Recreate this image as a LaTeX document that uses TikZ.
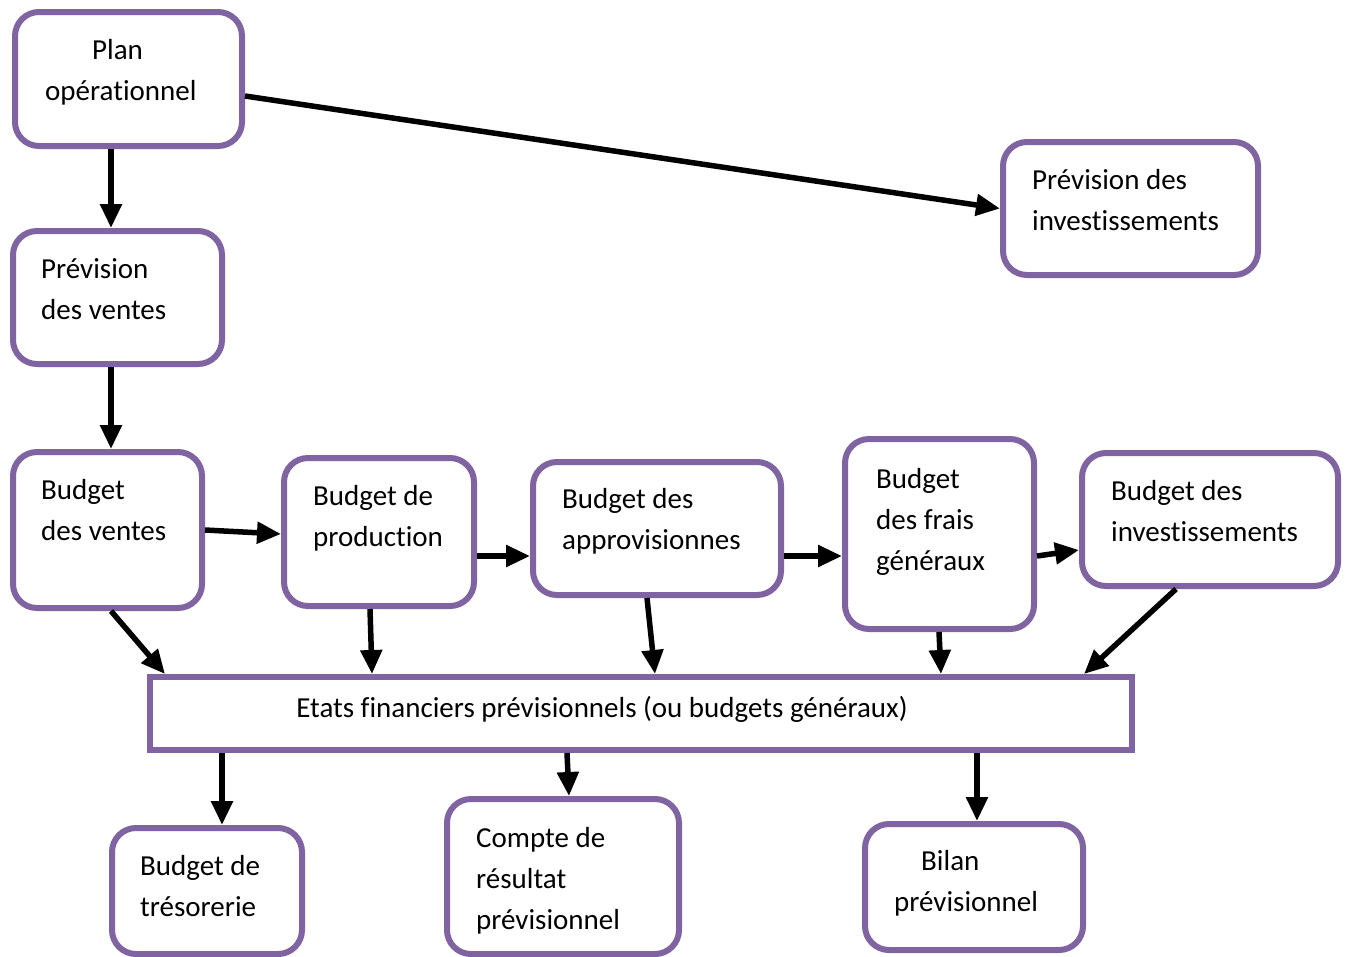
\documentclass[tikz,border=0pt]{standalone}
\usepackage{fontspec}
\setmainfont{Carlito}[Ligatures=NoCommon]
\usetikzlibrary{arrows.meta}
\definecolor{boxpurple}{HTML}{8064A2}
\begin{document}
\begin{tikzpicture}[x=1pt,y=-1pt,
  box/.style={draw=boxpurple,line width=6pt,rounded corners=24pt,inner sep=0pt,fill=white},
  sqbox/.style={draw=boxpurple,line width=6pt,inner sep=0pt,fill=white},
  txt/.style={inner sep=0pt,anchor=base west,align=left,font=\fontsize{29}{41}\selectfont},
  arr/.style={line width=5.5pt,-{Triangle[length=24pt,width=21pt]}}]
\useasboundingbox (0,0) rectangle (1346,956);
\clip (0,0) rectangle (1346,956);
\fill[white] (0,0) rectangle (1346,956);
% boxes
\node[box,minimum width=227pt,minimum height=134pt] (plan) at (128.5,79) {};
\node[box,minimum width=255pt,minimum height=133pt] (previnv) at (1130.5,208.5) {};
\node[box,minimum width=209pt,minimum height=133pt] (prevv) at (117.5,297.5) {};
\node[box,minimum width=189pt,minimum height=156pt] (bv) at (107.5,530) {};
\node[box,minimum width=190pt,minimum height=148pt] (bp) at (379,532) {};
\node[box,minimum width=248pt,minimum height=133pt] (ba) at (657,528.5) {};
\node[box,minimum width=189pt,minimum height=190pt] (bf) at (939.5,534) {};
\node[box,minimum width=256pt,minimum height=133pt] (bi) at (1210,519.5) {};
\node[sqbox,minimum width=982pt,minimum height=73pt] (etats) at (641,713.5) {};
\node[box,minimum width=190pt,minimum height=126pt] (btr) at (207,891) {};
\node[box,minimum width=232pt,minimum height=155pt] (cr) at (563,876.5) {};
\node[box,minimum width=218pt,minimum height=126pt] (bil) at (974,887) {};
% texts (anchor = baseline of last line)
\node[txt] (tplan) at (45,100) {\hspace*{47pt}Plan\\opérationnel};
\node[txt] (tprevinv) at (1032,230) {Prévision des\\investissements};
\node[txt] (tprevv) at (41,319) {Prévision\\des ventes};
\node[txt] (tbv) at (41,540) {Budget\\des ventes};
\node[txt] (tbp) at (313,546) {Budget de\\production};
\node[txt] (tba) at (562,549) {Budget des\\approvisionnes};
\node[txt] (tbf) at (876,570) {Budget\\des frais\\généraux};
\node[txt] (tbi) at (1111,541) {Budget des\\investissements};
\node[txt,anchor=base] (tetats) at (602,717) {Etats financiers prévisionnels (ou budgets généraux)};
\node[txt] (tbtr) at (140,916) {Budget de\\trésorerie};
\node[txt] (tcr) at (476,929) {Compte de\\résultat\\prévisionnel};
\node[txt] (tbil) at (894,911) {\hspace*{27pt}Bilan\\prévisionnel};
% arrows
\draw[arr] ([yshift=-17pt]plan.east) -- (previnv.west);
\draw[arr] ([xshift=-17.5pt]plan.south) -- ([xshift=-6.5pt]prevv.north);
\draw[arr] ([xshift=-6.5pt]prevv.south) -- ([xshift=3.5pt]bv.north);
\draw[arr] (bv.east) -- ([yshift=-2pt]bp.west);
\draw[arr] ([yshift=-24pt]bp.east) -- ([yshift=-27.5pt]ba.west);
\draw[arr] ([yshift=-27.5pt]ba.east) -- ([yshift=-22pt]bf.west);
\draw[arr] ([yshift=-22pt]bf.east) -- ([yshift=-30.5pt]bi.west);
\draw[arr] ([xshift=3.5pt]bv.south) -- ([xshift=-476pt]etats.north);
\draw[arr] ([xshift=-9pt]bp.south) -- ([xshift=-269pt]etats.north);
\draw[arr] ([xshift=-10pt]ba.south) -- ([xshift=14pt]etats.north);
\draw[arr] ([xshift=-0.5pt]bf.south) -- ([xshift=300pt]etats.north);
\draw[arr] ([xshift=-34pt]bi.south) -- ([xshift=443pt]etats.north);
\draw[arr] ([xshift=-419pt]etats.south) -- ([xshift=15pt]btr.north);
\draw[arr] ([xshift=-74pt]etats.south) -- ([xshift=6pt]cr.north);
\draw[arr] ([xshift=336pt]etats.south) -- ([xshift=3pt]bil.north);
\end{tikzpicture}
\end{document}
